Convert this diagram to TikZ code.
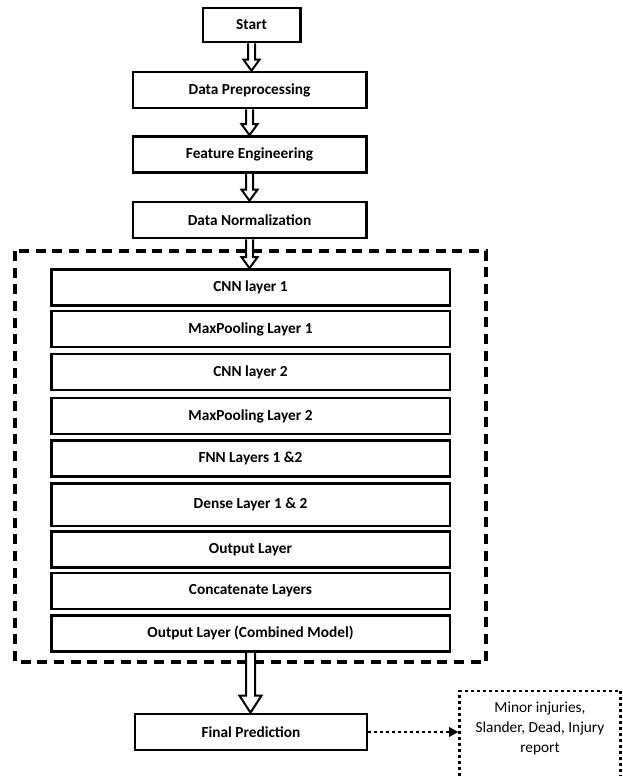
\documentclass[tikz,border=0pt]{standalone}
\usepackage{fontspec}
\setmainfont{Carlito}
\usepackage{tikz}
\usetikzlibrary{positioning, calc, arrows.meta}

\begin{document}
\begin{tikzpicture}[x=0.75pt, y=-0.75pt, every node/.style={font=\fontsize{11.5}{15}\selectfont}]
			\tikzstyle{stepbox}=[rectangle, draw=black, line width=2pt, minimum height=27pt, inner sep=0pt, font=\fontsize{11.5}{15}\selectfont\bfseries]
			\tikzstyle{layerbox}=[stepbox, minimum width=299pt]
			\tikzstyle{hollow}=[line width=1.5pt, fill=white, line join=miter]
			\tikzstyle{dotline}=[line width=2.2pt, dash pattern=on 2.2pt off 2.3pt]
			%%
			\useasboundingbox (0,0) rectangle (623,776);
			
			%% dashed frame round the model layers
			\draw [line width=2.3pt, dash pattern=on 7.5pt off 5pt] (15,251) rectangle (486,662);
			
			\node (start) at (251.5,25) [stepbox, minimum width=73pt, minimum height=25.5pt] {Start};
			\node (prep) at (249.5,90) [stepbox, minimum width=175pt] {Data Preprocessing};
			\node (feat) at (249.5,154.5) [stepbox, minimum width=175pt] {Feature Engineering};
			\node (norm) at (249.5,220) [stepbox, minimum width=175pt] {Data Normalization};
			
			\node (l1) at (250.5,287.5) [layerbox] {CNN layer 1};
			\node (l2) at (250.5,329) [layerbox] {MaxPooling Layer 1};
			\node (l3) at (250.5,372) [layerbox] {CNN layer 2};
			\node (l4) at (250.5,416) [layerbox] {MaxPooling Layer 2};
			\node (l5) at (250.5,458.5) [layerbox] {FNN Layers 1 \&2};
			\node (l6) at (250.5,504.5) [layerbox, minimum height=32pt] {Dense Layer 1 \& 2};
			\node (l7) at (250.5,549.5) [layerbox] {Output Layer};
			\node (l8) at (250.5,591) [layerbox] {Concatenate Layers};
			\node (l9) at (250.5,633.5) [layerbox] {Output Layer (Combined Model)};
			
			\node (final) at (251,732) [stepbox, minimum width=174pt] {Final Prediction};
			\node (res) at (540,728) [minimum width=120pt, minimum height=55pt, align=center] {Minor injuries,\\Slander, Dead, Injury\\report};
			
			%% small hollow arrows
			\foreach \a/\b in {start/prep, prep/feat, feat/norm, norm/l1}
			\draw [hollow] ($(\a.south)+(-3.5,0)$) -- ($(\a.south |- \b.north)+(-3.5,-11)$) -- ($(\a.south |- \b.north)+(-8,-11)$) -- (\a.south |- \b.north) -- ($(\a.south |- \b.north)+(8,-11)$) -- ($(\a.south |- \b.north)+(3.5,-11)$) -- ($(\a.south)+(3.5,0)$);
			
			%% big hollow arrow
			\draw [hollow] ($(l9.south)+(-4.5,0)$) -- ($(l9.south |- final.north)+(-4.5,-17)$) -- ($(l9.south |- final.north)+(-11,-17)$) -- (l9.south |- final.north) -- ($(l9.south |- final.north)+(11,-17)$) -- ($(l9.south |- final.north)+(4.5,-17)$) -- ($(l9.south)+(4.5,0)$);
			
			%% dotted result box and arrow
			\draw [dotline] (res.west |- 0,800) -- (res.west |- 0,691) -- (res.east |- 0,691) -- (res.east |- 0,800);
			\draw [dotline, -{Triangle[length=7pt, width=7pt, sep=1pt]}] (final.east) -- (final.east -| res.west);
\end{tikzpicture}
\end{document}
